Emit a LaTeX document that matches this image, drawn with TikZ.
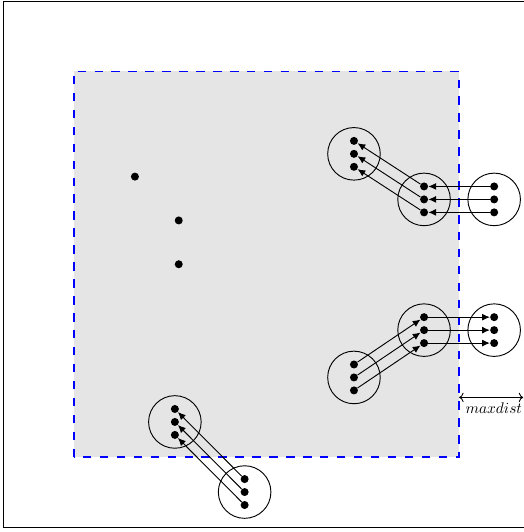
\documentclass[tikz,border=0pt]{standalone}
\usepackage{tikz}
\usetikzlibrary{arrows.meta}
\begin{document}
\begin{tikzpicture}[x=0.8cm,y=0.8cm]
    \tikzstyle{dot}=[circle,fill=black,inner sep=0pt,minimum size=5.2pt]
    \tikzstyle{group}=[circle,draw=black,semithick,minimum size=1.2cm]
    \tikzstyle{move}=[-{Latex[length=5pt,width=4.5pt]},semithick]
    \tikzstyle{region}=[fill=gray!20,draw=blue,line width=1.2pt,dash pattern=on 5.5pt off 5.5pt]

    \useasboundingbox (-0.1,-0.14) rectangle (14.83,15.04);
    \draw[semithick] (0,0) rectangle (15,15);
    \draw[region] (2,2) rectangle (13,13);

    % single points
    \node[dot](p1) at (3.75,10){};
    \node[dot](p2) at (5,8.75){};
    \node[dot](p3) at (5,7.5){};

    % upper right: moving in
    \begin{scope}[shift={(10,10.65)}]
    \node[group](a){};
    \node[dot](a1) at (0,0.37){}; \node[dot](a2) at (0,0){}; \node[dot](a3) at (0,-0.37){};
    \end{scope}

    \begin{scope}[shift={(12,9.35)}]
    \node[group](b){};
    \node[dot](b1) at (0,0.37){}; \node[dot](b2) at (0,0){}; \node[dot](b3) at (0,-0.37){};
    \end{scope}

    \begin{scope}[shift={(14,9.35)}]
    \node[group](c){};
    \node[dot](c1) at (0,0.37){}; \node[dot](c2) at (0,0){}; \node[dot](c3) at (0,-0.37){};
    \end{scope}

    \draw[move] (c1) -- (b1); \draw[move] (c2) -- (b2); \draw[move] (c3) -- (b3);
    \draw[move] (b1) -- (a1); \draw[move] (b2) -- (a2); \draw[move] (b3) -- (a3);

    % lower right: moving out
    \begin{scope}[shift={(10,4.27)}]
    \node[group](d){};
    \node[dot](d1) at (0,0.37){}; \node[dot](d2) at (0,0){}; \node[dot](d3) at (0,-0.37){};
    \end{scope}

    \begin{scope}[shift={(12,5.62)}]
    \node[group](e){};
    \node[dot](e1) at (0,0.37){}; \node[dot](e2) at (0,0){}; \node[dot](e3) at (0,-0.37){};
    \end{scope}

    \begin{scope}[shift={(14,5.62)}]
    \node[group](f){};
    \node[dot](f1) at (0,0.37){}; \node[dot](f2) at (0,0){}; \node[dot](f3) at (0,-0.37){};
    \end{scope}

    \draw[move] (d1) -- (e1); \draw[move] (d2) -- (e2); \draw[move] (d3) -- (e3);
    \draw[move] (e1) -- (f1); \draw[move] (e2) -- (f2); \draw[move] (e3) -- (f3);

    % bottom
    \begin{scope}[shift={(4.89,3)}]
    \node[group](g){};
    \node[dot](g1) at (0,0.37){}; \node[dot](g2) at (0,0){}; \node[dot](g3) at (0,-0.37){};
    \end{scope}

    \begin{scope}[shift={(6.88,1)}]
    \node[group](h){};
    \node[dot](h1) at (0,0.37){}; \node[dot](h2) at (0,0){}; \node[dot](h3) at (0,-0.37){};
    \end{scope}

    \draw[move] (h1) -- (g1); \draw[move] (h2) -- (g2); \draw[move] (h3) -- (g3);

    % distance
    \coordinate (m1) at (13,3.7);
    \coordinate (m2) at (14.83,3.7);
    \draw[<->,semithick] (m1) -- node[below,xshift=0.06cm]{$maxdist$} (m2);

\end{tikzpicture}
\end{document}
